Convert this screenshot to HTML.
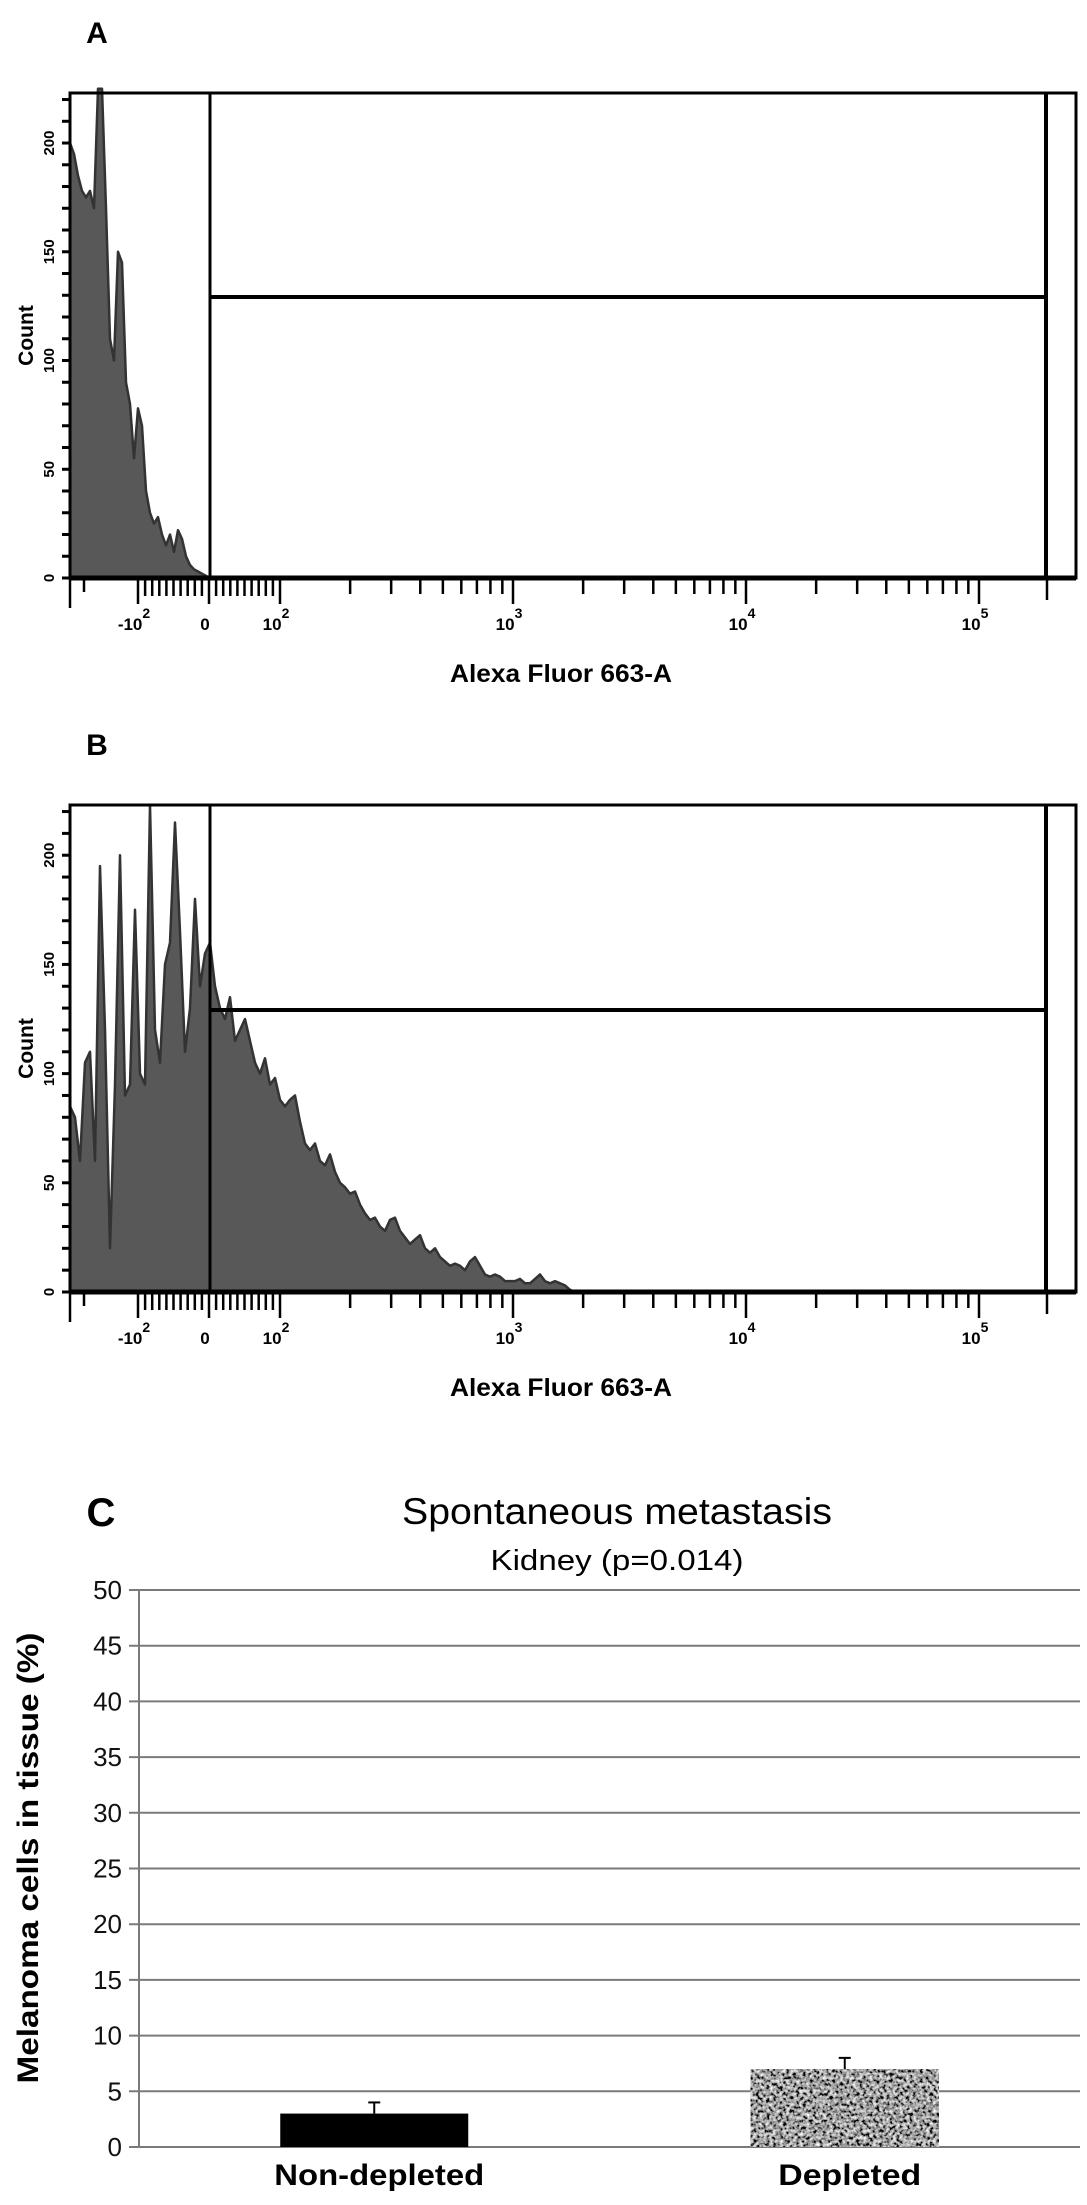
<!DOCTYPE html>
<html><head><meta charset="utf-8"><style>
html,body{margin:0;padding:0;background:#fff}
svg{display:block}
</style></head><body>
<svg id="fig" width="1087" height="2205" viewBox="0 0 1087 2205" xmlns="http://www.w3.org/2000/svg">
<defs>
<filter id="gnoise" x="0" y="0" width="100%" height="100%">
<feTurbulence type="fractalNoise" baseFrequency="0.3" numOctaves="2" seed="7"/>
<feColorMatrix type="matrix" values="1.9 0 0 0 -0.6  1.9 0 0 0 -0.6  1.9 0 0 0 -0.6  0 0 0 0 1"/>
</filter>
</defs>
<g id="panelA"></g>
<g id="panelB"></g>
<g id="panelC"></g>
</svg>
<script>
// ---- Flow histogram data ----
const countTicks = [0, 50, 100, 150, 200];
const fluorMajorTicks = [-100, 0, 100, 1000, 10000, 100000];
const fluorMajorLabels = ["-10", "0", "10", "10", "10", "10"];
const fluorMajorExps = ["2", "", "2", "3", "4", "5"];
const histA = [200,195,185,178,175,178,170,225,225,170,110,100,150,145,90,80,55,78,70,40,30,25,28,20,15,20,12,22,18,10,6,4,3,2,1,0];
const histB = [85,80,60,105,110,60,195,120,20,95,200,90,95,175,100,95,223,120,105,150,160,215,165,110,130,180,140,155,160,140,130,125,135,115,120,125,115,105,100,107,95,98,88,85,88,90,78,68,65,68,60,58,63,55,50,48,45,46,40,36,33,34,30,28,33,34,28,25,22,24,26,20,18,20,16,14,12,13,12,10,14,16,12,8,7,8,7,5,5,5,6,4,4,6,8,5,4,5,4,3,1,0];
// ---- Bar chart data ----
const barCategories = ["Non-depleted", "Depleted"];
const barValues = [3, 7];
const barErrors = [1, 1];
const barTicks = [0,5,10,15,20,25,30,35,40,45,50];

const NS = "http://www.w3.org/2000/svg";
function mk(parent, tag, attrs, text){
  const e = document.createElementNS(NS, tag);
  for (const k in attrs) e.setAttribute(k, attrs[k]);
  if (text !== undefined) e.textContent = text;
  parent.appendChild(e);
  return e;
}
function fx(v){
  if (Math.abs(v) <= 100) return 209 + v * 0.71;
  const s = v > 0 ? 1 : -1;
  return s > 0 ? 280 + Math.log10(v / 100) * 233 : 138 - Math.log10(-v / 100) * 233;
}

function flowPanel(g, letter, top, base, gateY, hist, step, name){
  const cy = c => base - c * (base - top) / 223;
  const lbl = mk(g, "text", {x: 97, y: top - 50, "font-family": "Liberation Sans, sans-serif", "font-weight": "bold", "font-size": "30", "text-anchor": "middle"}, letter);
  
  
  let d = "M70," + base;
  hist.forEach((c, i) => { d += " L" + (70 + i * step) + "," + cy(c).toFixed(1); });
  d += " L" + (70 + (hist.length - 1) * step) + "," + base + " Z";
  const h = mk(g, "path", {d: d, fill: "#585858", stroke: "#333", "stroke-width": "2.5", "stroke-linejoin": "round"});
  
  
  const fr = mk(g, "rect", {x: 70, y: top, width: 1006, height: base - top, fill: "none", stroke: "#000", "stroke-width": "3"});
  
  
  const rl = mk(g, "line", {x1: 1046, y1: top, x2: 1046, y2: base, stroke: "#000", "stroke-width": "4"});
  
  
  const gv = mk(g, "line", {x1: 210, y1: top, x2: 210, y2: base, stroke: "#000", "stroke-width": "3"});
  
  
  const gh = mk(g, "line", {x1: 210, y1: gateY, x2: 1046, y2: gateY, stroke: "#000", "stroke-width": "4"});
  
  
  mk(g, "line", {x1: 70, y1: base, x2: 1076, y2: base, stroke: "#000", "stroke-width": "5"});
  for (let c = 0; c <= 220; c += 10) {
    mk(g, "line", {x1: 62, y1: cy(c), x2: 70, y2: cy(c), stroke: "#000", "stroke-width": "3"});
  }
  countTicks.forEach(c => {
    const t = mk(g, "text", {x: 0, y: 0, transform: "translate(54," + cy(c) + ") rotate(-90)", "font-family": "Liberation Sans, sans-serif", "font-weight": "bold", "font-size": "15", "text-anchor": "middle"}, String(c));
    
    
  });
  const yt = mk(g, "text", {x: 0, y: 0, transform: "translate(33," + (top + (base - top) * 0.5) + ") rotate(-90)", "font-family": "Liberation Sans, sans-serif", "font-weight": "bold", "font-size": "21", "text-anchor": "middle"}, "Count");
  
  
  const tk = (x, len) => mk(g, "line", {x1: x, y1: base, x2: x, y2: base + len, stroke: "#000", "stroke-width": "2.5"});
  tk(70, 30); tk(84, 14); tk(1047, 22);
  for (let v = -90; v <= 90; v += 10) if (v !== 0) tk(fx(v), 18);
  [200,300,400,500,600,700,800,900,2000,3000,4000,5000,6000,7000,8000,9000,20000,30000,40000,50000,60000,70000,80000,90000].forEach(v => tk(fx(v), 16));
  fluorMajorTicks.forEach((v, i) => {
    const x = fx(v);
    tk(x, 26);
    const t = mk(g, "text", {x: x - 4, y: base + 52, "font-family": "Liberation Sans, sans-serif", "font-weight": "bold", "font-size": "17", "text-anchor": "middle"});
    
    
    mk(t, "tspan", {}, fluorMajorLabels[i]);
    if (fluorMajorExps[i]) mk(t, "tspan", {dy: "-12", "font-size": "14"}, fluorMajorExps[i]);
  });
  const xt = mk(g, "text", {x: 561, y: base + 104, "font-family": "Liberation Sans, sans-serif", "font-weight": "bold", "font-size": "25", "text-anchor": "middle", textLength: "222", lengthAdjust: "spacingAndGlyphs"}, "Alexa Fluor 663-A");
  
  
}

flowPanel(document.getElementById("panelA"), "A", 93, 578, 297, histA, 4, "a");
flowPanel(document.getElementById("panelB"), "B", 805, 1292, 1010, histB, 5, "b");

(function(){
  const g = document.getElementById("panelC");
  const y0 = 2147, y50 = 1590, xL = 139, xR = 1080;
  const yv = v => y0 - v * (y0 - y50) / 50;
  const bandW = (xR - xL) / barCategories.length;
  const xc = i => xL + bandW * (i + 0.5);
  const barW = 188;
  const F = "Liberation Sans, sans-serif";
  const c = mk(g, "text", {x: 101, y: 1526, "font-family": F, "font-weight": "bold", "font-size": "40", "text-anchor": "middle"}, "C");
  
  
  const ti = mk(g, "text", {x: 617, y: 1524, "font-family": F, "font-size": "37", "text-anchor": "middle", textLength: "430", lengthAdjust: "spacingAndGlyphs"}, "Spontaneous metastasis");
  
  
  const st = mk(g, "text", {x: 617, y: 1570, "font-family": F, "font-size": "29", "text-anchor": "middle", textLength: "253", lengthAdjust: "spacingAndGlyphs"}, "Kidney (p=0.014)");
  
  
  barTicks.forEach(v => {
    const l = mk(g, "line", {x1: 129, y1: yv(v), x2: xR, y2: yv(v), stroke: "#7a7a7a", "stroke-width": "2"});
    
    
    const t = mk(g, "text", {x: 122, y: yv(v) + 9, "font-family": F, "font-size": "26", "text-anchor": "end", fill: "#111"}, String(v));
    
    
  });
  mk(g, "line", {x1: xL, y1: y50, x2: xL, y2: y0, stroke: "#7a7a7a", "stroke-width": "2"});
  const yt = mk(g, "text", {x: 0, y: 0, transform: "translate(38,1858) rotate(-90)", "font-family": F, "font-weight": "bold", "font-size": "30", "text-anchor": "middle", textLength: "451", lengthAdjust: "spacingAndGlyphs"}, "Melanoma cells in tissue (%)");
  
  
  barCategories.forEach((cat, i) => {
    const x = xc(i) - barW / 2;
    const top = yv(barValues[i]);
    const attrs = {x: x, y: top, width: barW, height: y0 - top, fill: i === 0 ? "#000" : "#777"};
    if (i !== 0) attrs.filter = "url(#gnoise)";
    const b = mk(g, "rect", attrs);
    
    
    const et = yv(barValues[i] + barErrors[i]);
    const e1 = mk(g, "line", {x1: xc(i), y1: top, x2: xc(i), y2: et, stroke: "#000", "stroke-width": "2"});
    
    
    mk(g, "line", {x1: xc(i) - 6, y1: et, x2: xc(i) + 6, y2: et, stroke: "#000", "stroke-width": "2"});
    const t = mk(g, "text", {x: xc(i) + 5, y: 2185, "font-family": F, "font-weight": "bold", "font-size": "30", "text-anchor": "middle", textLength: i === 0 ? "210" : "143", lengthAdjust: "spacingAndGlyphs"}, cat);
    
    
  });
})();
</script>
</body></html>
